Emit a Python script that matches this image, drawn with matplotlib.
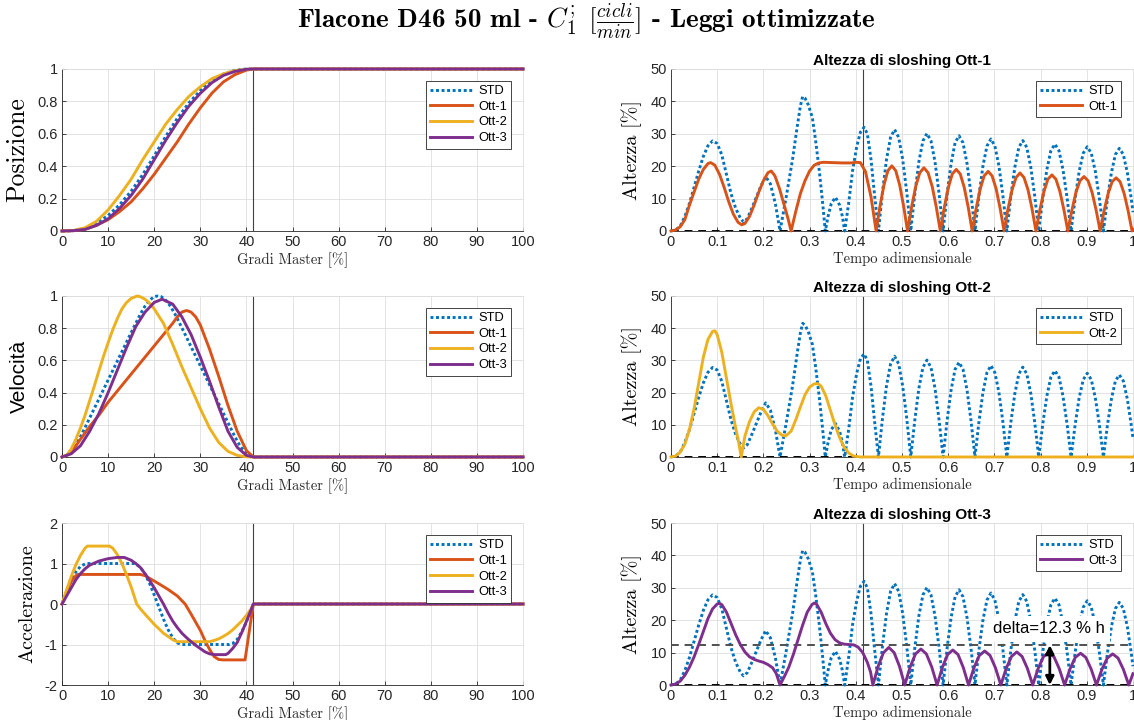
import matplotlib
matplotlib.use('Agg')
import matplotlib.pyplot as plt
from matplotlib.ticker import FormatStrFormatter

plt.rcParams['font.family'] = 'Liberation Sans'
plt.rcParams['mathtext.fontset'] = 'cm'
plt.rcParams['axes.unicode_minus'] = False

# MATLAB default colours
C_STD = '#0072BD'
C_OTT = ['#D95319', '#EDB120', '#7E2F8E']
NAMES = ['Ott-1', 'Ott-2', 'Ott-3']

# ---------------- leggi di moto (gradi master %) ----------------
end_motion = 41.5

pos_x = [0, 2.5, 5, 7.5, 10, 12.5, 15, 17.5, 20, 22.5, 25, 27.5, 30, 32.5, 35, 37.5, 40, 41.5, 100]
pos_std = [0, 0.002, 0.016, 0.047, 0.096, 0.162, 0.246, 0.348, 0.464, 0.584, 0.695, 0.79, 0.867, 0.926, 0.968, 0.992, 1.0, 1, 1]
pos_ott1 = [0, 0.002, 0.01, 0.035, 0.07, 0.12, 0.18, 0.26, 0.35, 0.45, 0.55, 0.66, 0.76, 0.85, 0.92, 0.965, 0.993, 1, 1]
pos_ott2 = [0, 0.003, 0.02, 0.06, 0.13, 0.22, 0.32, 0.44, 0.55, 0.66, 0.75, 0.83, 0.89, 0.94, 0.97, 0.99, 0.998, 1, 1]
pos_ott3 = [0, 0.002, 0.01, 0.035, 0.075, 0.14, 0.22, 0.32, 0.44, 0.56, 0.67, 0.77, 0.85, 0.915, 0.96, 0.985, 0.998, 1, 1]

vel_std_x = [0, 1, 2, 3, 4, 5.19, 8, 10, 12, 14, 15.56, 17, 18, 19, 20, 20.75,
             21.5, 22.5, 23.5, 24.5, 25.94, 27.5, 29.5, 31.5, 33.5, 36.31, 37.5, 38.5, 39.5, 40.5, 41.5, 100]
vel_std = [0, 0.009, 0.035, 0.075, 0.126, 0.195, 0.36, 0.478, 0.596, 0.714, 0.806, 0.888, 0.937, 0.974, 0.996, 1,
           0.996, 0.974, 0.937, 0.888, 0.806, 0.714, 0.596, 0.478, 0.36, 0.195, 0.126, 0.075, 0.035, 0.009, 0, 0]
vel_ott1_x = [0, 1, 2, 3, 4, 6, 8, 10, 12, 14, 16, 18, 20, 22, 24, 25, 26, 27, 28, 29, 30, 32, 34, 36, 38, 40, 41.5, 100]
vel_ott1 = [0, 0.01, 0.035, 0.07, 0.11, 0.19, 0.26, 0.34, 0.41, 0.48, 0.55, 0.62, 0.69, 0.76, 0.83, 0.87, 0.9, 0.91,
            0.9, 0.87, 0.82, 0.67, 0.5, 0.32, 0.16, 0.04, 0, 0]
vel_ott2_x = [0, 1, 2, 3, 4, 5, 6, 7, 8, 9, 10, 11, 12, 13, 14, 15, 16.3, 17, 18, 19, 20, 22, 24, 26, 28, 30,
              32, 34, 36, 38, 40, 41.5, 100]
vel_ott2 = [0, 0.01, 0.05, 0.11, 0.18, 0.26, 0.35, 0.44, 0.535, 0.625, 0.71, 0.79, 0.86, 0.92, 0.96, 0.985, 1.0,
            0.995, 0.98, 0.955, 0.92, 0.83, 0.7, 0.56, 0.43, 0.3, 0.18, 0.09, 0.035, 0.01, 0.001, 0, 0]
vel_ott3_x = [0, 2, 4, 6, 8, 10, 12, 14, 16, 18, 20, 21.7, 24, 26, 28, 30, 32, 34, 36, 38, 40, 41.5, 100]
vel_ott3 = [0, 0.02, 0.07, 0.16, 0.27, 0.4, 0.54, 0.68, 0.81, 0.9, 0.96, 0.98, 0.95, 0.87, 0.76, 0.62, 0.47,
            0.31, 0.16, 0.06, 0.01, 0, 0]

acc_std_x = [0, 1, 2, 3, 4, 5.19, 15.56, 16, 17, 18, 19, 20, 21, 22, 23, 24, 25, 25.94, 36.31, 37, 38, 39, 40, 41, 41.5, 100]
acc_std = [0, 0.3, 0.57, 0.79, 0.93, 1, 1, 0.99, 0.906, 0.74, 0.505, 0.225, -0.075, -0.37, -0.63, -0.83, -0.96,
           -1, -1, -0.978, -0.872, -0.687, -0.44, -0.151, 0, 0]
acc_ott1_x = [0, 1, 2, 3, 3.5, 17, 18, 19.5, 21, 23, 25, 26.7, 28, 30, 31, 32, 33, 34, 35, 39.7, 41.5, 100]
acc_ott1 = [0, 0.32, 0.56, 0.7, 0.73, 0.73, 0.7, 0.6, 0.5, 0.36, 0.2, 0.0, -0.25, -0.65, -0.9, -1.12, -1.3, -1.37,
            -1.38, -1.38, 0, 0]
acc_ott2_x = [0, 1, 2, 3, 4, 5, 5.5, 10.3, 11, 12, 13, 14, 15, 16.2, 17, 18, 20, 22, 24, 25, 32, 33, 34, 35, 36,
              37, 38, 39, 40, 41, 41.5, 100]
acc_ott2 = [0, 0.35, 0.68, 0.97, 1.2, 1.38, 1.43, 1.43, 1.38, 1.22, 1.0, 0.72, 0.42, 0.0, -0.12, -0.25, -0.5,
            -0.72, -0.88, -0.93, -0.93, -0.9, -0.86, -0.8, -0.73, -0.64, -0.53, -0.42, -0.28, -0.12, 0, 0]
acc_ott3_x = [0, 1, 2, 3, 4, 5, 6, 8, 10, 12, 13.5, 15, 16, 17, 18, 19, 20, 21, 22, 23, 24, 25, 26, 27, 28, 29,
              30, 31, 32, 33, 35.5, 36, 37, 38, 39, 40, 41, 41.5, 100]
acc_ott3 = [0, 0.2, 0.4, 0.6, 0.75, 0.87, 0.96, 1.06, 1.12, 1.15, 1.15, 1.08, 1.0, 0.9, 0.75, 0.58, 0.4, 0.2, 0.0,
            -0.22, -0.42, -0.58, -0.72, -0.83, -0.93, -1.02, -1.1, -1.18, -1.23, -1.25, -1.25, -1.22, -1.1,
            -0.95, -0.7, -0.43, -0.15, 0, 0]

# ---------------- altezza di sloshing (tempo adimensionale) ----------------
end_time = 0.415

sl_std_x = [0, 0.01, 0.02, 0.03, 0.04, 0.05, 0.06, 0.07, 0.08, 0.09, 0.1, 0.11, 0.12, 0.13, 0.14, 0.15, 0.157,
            0.165, 0.175, 0.185, 0.195, 0.205, 0.215, 0.226, 0.236, 0.25, 0.263, 0.273, 0.28, 0.285, 0.29, 0.297,
            0.306, 0.313, 0.321, 0.328, 0.334, 0.34, 0.347, 0.356, 0.365, 0.371, 0.376, 0.385, 0.393, 0.402,
            0.41, 0.418, 0.425, 0.433, 0.44, 0.449,
            0.4578, 0.4665, 0.4753, 0.484, 0.4928, 0.5015, 0.5103, 0.519,
            0.5278, 0.5365, 0.5453, 0.554, 0.5628, 0.5715, 0.5803, 0.589,
            0.5976, 0.6063, 0.6149, 0.6235, 0.6321, 0.6408, 0.6494, 0.658,
            0.6666, 0.6753, 0.6839, 0.6925, 0.7011, 0.7098, 0.7184, 0.727,
            0.7356, 0.7443, 0.7529, 0.7615, 0.7701, 0.7788, 0.7874, 0.796,
            0.8048, 0.8135, 0.8223, 0.831, 0.8398, 0.8485, 0.8573, 0.866,
            0.8748, 0.8835, 0.8923, 0.901, 0.9098, 0.9185, 0.9273, 0.936,
            0.9446, 0.9533, 0.9619, 0.9705, 0.9791, 0.9878, 0.9964, 1.0]
sl_std = [0, 0.3, 1.5, 4.5, 8.5, 13.5, 18.5, 23, 26.3, 27.8, 27, 23.5, 17.5, 11.5, 7, 4, 2.8,
          3.8, 7, 10.5, 14, 16.8, 14.6, 8.4, 0, 11, 22, 32, 38.5, 41.5, 41, 39,
          35, 28, 18.6, 9, 0, 4.5, 8.5, 10.4, 8, 4.5, 0, 9, 18.6, 26,
          30.5, 32, 30, 22, 12, 0,
          12.0, 22.1, 28.9, 31.3, 28.9, 22.1, 12.0, 0,
          11.5, 21.3, 27.8, 30.1, 27.8, 21.3, 11.5, 0,
          11.3, 20.8, 27.2, 29.4, 27.2, 20.8, 11.3, 0,
          10.9, 20.1, 26.2, 28.4, 26.2, 20.1, 10.9, 0,
          10.7, 19.7, 25.8, 27.9, 25.8, 19.7, 10.7, 0,
          10.3, 18.9, 24.8, 26.8, 24.8, 18.9, 10.3, 0,
          10.0, 18.4, 24.0, 26.0, 24.0, 18.4, 10.0, 0,
          9.8, 18.0, 23.6, 25.5, 23.6, 18.0, 9.8, 5.8]

sl_ott1_x = [0, 0.01, 0.02, 0.03, 0.04, 0.05, 0.06, 0.07, 0.08, 0.086, 0.095, 0.105, 0.115, 0.125, 0.135, 0.145,
             0.153, 0.16, 0.17, 0.18, 0.19, 0.2, 0.21, 0.217, 0.225, 0.235, 0.245, 0.253, 0.26, 0.27, 0.28, 0.29,
             0.3, 0.31, 0.32, 0.33, 0.35, 0.37, 0.39, 0.4, 0.41, 0.421, 0.433, 0.444,
             0.4525, 0.461, 0.4695, 0.478, 0.4865, 0.495, 0.5035, 0.512,
             0.5209, 0.5298, 0.5386, 0.5475, 0.5564, 0.5653, 0.5741, 0.583,
             0.5916, 0.6003, 0.6089, 0.6175, 0.6261, 0.6348, 0.6434, 0.652,
             0.6606, 0.6693, 0.6779, 0.6865, 0.6951, 0.7038, 0.7124, 0.721,
             0.7296, 0.7383, 0.7469, 0.7555, 0.7641, 0.7728, 0.7814, 0.79,
             0.7986, 0.8073, 0.8159, 0.8245, 0.8331, 0.8418, 0.8504, 0.859,
             0.8678, 0.8765, 0.8853, 0.894, 0.9028, 0.9115, 0.9203, 0.929,
             0.9376, 0.9463, 0.9549, 0.9635, 0.9721, 0.9808, 0.9894, 0.998, 1.0]
sl_ott1 = [0, 0.3, 1.3, 3.5, 8, 12, 16, 19, 20.8, 21.1, 20.3, 17.5, 13.5, 9, 5.2, 2.7,
           1.9, 2.3, 4.5, 8, 12, 15.5, 18, 18.5, 17, 13, 8, 4, 0, 6, 11.5, 15.5,
           18.5, 20.3, 21, 21.2, 21.1, 21, 21, 21.2, 21.1, 18.3, 10.5, 0,
           7.7, 14.2, 18.6, 20.1, 18.6, 14.2, 7.7, 0,
           7.5, 13.8, 18.0, 19.5, 18.0, 13.8, 7.5, 0,
           7.3, 13.4, 17.6, 19.0, 17.6, 13.4, 7.3, 0,
           7.0, 13.0, 17.0, 18.4, 17.0, 13.0, 7.0, 0,
           6.9, 12.7, 16.5, 17.9, 16.5, 12.7, 6.9, 0,
           6.6, 12.2, 16.0, 17.3, 16.0, 12.2, 6.6, 0,
           6.4, 11.9, 15.5, 16.8, 15.5, 11.9, 6.4, 0,
           6.3, 11.6, 15.2, 16.4, 15.2, 11.6, 6.3, 0, 0.5]

sl_ott2_x = [0, 0.01, 0.02, 0.03, 0.04, 0.05, 0.06, 0.07, 0.08, 0.09, 0.095, 0.1, 0.11, 0.12, 0.13, 0.14, 0.147,
             0.152, 0.16, 0.17, 0.18, 0.19, 0.2, 0.21, 0.22, 0.23, 0.24, 0.248, 0.26, 0.27, 0.28, 0.29, 0.3,
             0.31, 0.318, 0.325, 0.335, 0.345, 0.355, 0.365, 0.375, 0.385, 0.395, 0.41, 1.0]
sl_ott2 = [0, 0.3, 1.5, 4, 8.5, 15, 23, 31, 36.5, 39, 39.2, 38, 32.5, 24.5, 16.5, 9, 4.2,
           0, 6.5, 11, 14, 15.3, 14.8, 12.8, 10.2, 8, 6.8, 6.5, 8, 11.5, 15.5, 19.3, 21.7,
           22.7, 22.8, 22, 19, 14.5, 10, 6, 3, 1.2, 0.3, 0, 0]

sl_ott3_x = [0, 0.01, 0.02, 0.03, 0.04, 0.05, 0.06, 0.07, 0.08, 0.09, 0.1, 0.105, 0.11, 0.12, 0.13, 0.14, 0.15,
             0.16, 0.17, 0.18, 0.19, 0.2, 0.21, 0.22, 0.228, 0.236, 0.245, 0.255, 0.265, 0.275, 0.285, 0.295,
             0.305, 0.31, 0.315, 0.325, 0.335, 0.345, 0.355, 0.365, 0.375, 0.385, 0.395, 0.405, 0.415, 0.425,
             0.432, 0.437,
             0.4485, 0.46, 0.4715, 0.483, 0.4945, 0.506,
             0.5177, 0.5293, 0.541, 0.5527, 0.5643, 0.576,
             0.5873, 0.5987, 0.61, 0.6213, 0.6327, 0.644,
             0.6557, 0.6673, 0.679, 0.6907, 0.7023, 0.714,
             0.7255, 0.737, 0.7485, 0.76, 0.7715, 0.783,
             0.7945, 0.806, 0.8175, 0.829, 0.8405, 0.852,
             0.8635, 0.875, 0.8865, 0.898, 0.9095, 0.921,
             0.9327, 0.9443, 0.956, 0.9677, 0.9793, 0.991, 1.0]
sl_ott3 = [0, 0.3, 1.2, 3, 5.5, 8.7, 12.5, 16.5, 20.5, 23.5, 25, 25.2, 24.8, 22.5, 19, 15.5, 12.5,
           10.2, 8.7, 7.9, 7.4, 7, 6.3, 5.3, 3.5, 0, 2.5, 5.5, 9.5, 14, 18.5, 22.5,
           24.8, 25.3, 25, 22.5, 19, 16, 14, 13, 12.6, 12.5, 12.4, 11.7, 10, 7,
           4, 0,
           5.8, 10.0, 11.6, 10.0, 5.8, 0,
           5.6, 9.6, 11.1, 9.6, 5.6, 0,
           5.4, 9.4, 10.8, 9.4, 5.4, 0,
           5.3, 9.1, 10.5, 9.1, 5.3, 0,
           5.1, 8.8, 10.2, 8.8, 5.1, 0,
           5.0, 8.7, 10.0, 8.7, 5.0, 0,
           4.9, 8.5, 9.8, 8.5, 4.9, 0,
           4.8, 8.3, 9.6, 8.3, 4.8, 0, 3.5]

delta = 12.3
arrow_x = 0.82

DOTTED = (0, (1, 0.9))
DASHED = (0, (4, 3))
LW = 2.1
GRID = '#dedede'
INK = '#262626'


def style(ax):
    ax.grid(True, color=GRID, lw=0.6)
    ax.set_axisbelow(True)
    ax.tick_params(direction='in', length=3, width=0.6, labelsize=10.5, colors=INK, pad=3)
    for s in ['left', 'bottom']:
        ax.spines[s].set_color(INK)
        ax.spines[s].set_linewidth(0.6)
    for s in ['top', 'right']:
        ax.spines[s].set_color(GRID)
        ax.spines[s].set_linewidth(0.6)


def add_legend(ax):
    leg = ax.legend(loc='upper right', fontsize=9.3, fancybox=False, edgecolor=INK, framealpha=1,
                    borderaxespad=0.9, handlelength=3.2, labelspacing=0.28, borderpad=0.35,
                    handletextpad=0.5)
    leg.get_frame().set_linewidth(0.6)


fig = plt.figure(figsize=(11.34, 7.2), dpi=100)

rows = [(0.6792, 0.225), (0.3653, 0.2236), (0.0486, 0.225)]
lx, lw_ = 0.0547, 0.4065
rx, rw = 0.5917, 0.4074

# ---------- colonna sinistra ----------
left_data = [
    (pos_x, pos_std, [(pos_x, pos_ott1), (pos_x, pos_ott2), (pos_x, pos_ott3)], (0, 1),
     'Posizione', 'cmr10', 18.5),
    (vel_std_x, vel_std, [(vel_ott1_x, vel_ott1), (vel_ott2_x, vel_ott2), (vel_ott3_x, vel_ott3)], (0, 1),
     'Velocità', 'Liberation Sans', 15),
    (acc_std_x, acc_std, [(acc_ott1_x, acc_ott1), (acc_ott2_x, acc_ott2), (acc_ott3_x, acc_ott3)], (-2, 2),
     'Accelerazione', 'cmr10', 14.5),
]

for (b, h), (sx, sy, otts, ylim, ylab, yfam, ysize) in zip(rows, left_data):
    ax = fig.add_axes([lx, b, lw_, h])
    style(ax)
    ax.plot(sx, sy, color=C_STD, lw=LW, ls=DOTTED, label='STD', clip_on=False, zorder=3)
    for (ox, oy), c, n in zip(otts, C_OTT, NAMES):
        ax.plot(ox, oy, color=c, lw=LW, label=n, clip_on=False, zorder=3)
    ax.axvline(end_motion, color='#404040', lw=0.8, zorder=2)
    ax.set_xlim(0, 100)
    ax.set_ylim(*ylim)
    ax.set_xticks(range(0, 101, 10))
    if ylim == (0, 1):
        ax.set_yticks([0, 0.2, 0.4, 0.6, 0.8, 1])
    else:
        ax.set_yticks([-2, -1, 0, 1, 2])
    ax.yaxis.set_major_formatter(FormatStrFormatter('%g'))
    ax.set_xlabel('Gradi Master [%]', fontfamily='cmr10', fontsize=10.5, color=INK, labelpad=2)
    ax.set_ylabel(ylab, fontfamily=yfam, fontsize=ysize, labelpad=6)
    add_legend(ax)

# ---------- colonna destra ----------
right_data = [(sl_ott1_x, sl_ott1), (sl_ott2_x, sl_ott2), (sl_ott3_x, sl_ott3)]

for i, ((b, h), (ox, oy)) in enumerate(zip(rows, right_data)):
    ax = fig.add_axes([rx, b, rw, h])
    style(ax)
    ax.plot(sl_std_x, sl_std, color=C_STD, lw=LW, ls=DOTTED, label='STD', clip_on=False, zorder=3)
    ax.axhline(0, color='k', lw=1.4, ls=DASHED, zorder=3.5)
    if i == 2:
        ax.axhline(delta, color='#505050', lw=1.4, ls=DASHED, zorder=3.5)
    ax.plot(ox, oy, color=C_OTT[i], lw=LW, label=NAMES[i], clip_on=False, zorder=4)
    ax.axvline(end_time, color='#404040', lw=0.8, zorder=2)
    ax.set_xlim(0, 1)
    ax.set_ylim(0, 50)
    ax.set_xticks([k / 10 for k in range(11)])
    ax.set_yticks(range(0, 51, 10))
    ax.xaxis.set_major_formatter(FormatStrFormatter('%g'))
    ax.set_title('Altezza di sloshing ' + NAMES[i], fontsize=11, fontweight='bold', pad=3)
    ax.set_xlabel('Tempo adimensionale', fontfamily='cmr10', fontsize=10.5, color=INK, labelpad=2)
    ax.set_ylabel('Altezza [%]', fontfamily='cmr10', fontsize=14.5, labelpad=6)
    add_legend(ax)
    if i == 2:
        ax.annotate('', xy=(arrow_x, delta), xytext=(arrow_x, 0),
                    arrowprops=dict(arrowstyle='<|-|>', color='k', lw=2, mutation_scale=12,
                                    shrinkA=0, shrinkB=0), zorder=6)
        ax.text(0.696, 17.3, f'delta={delta} % h', fontsize=12, ha='left', va='center', zorder=6,
                bbox=dict(facecolor='white', edgecolor='none', pad=4))

fig.text(0.517, 0.971, r'Flacone D46 50 ml - $C_1^{;}$ $[\frac{cicli}{min}]$ - Leggi ottimizzate',
         fontfamily='cmb10', fontsize=19.5, ha='center', va='center')

fig.savefig('out.png', dpi=100)
